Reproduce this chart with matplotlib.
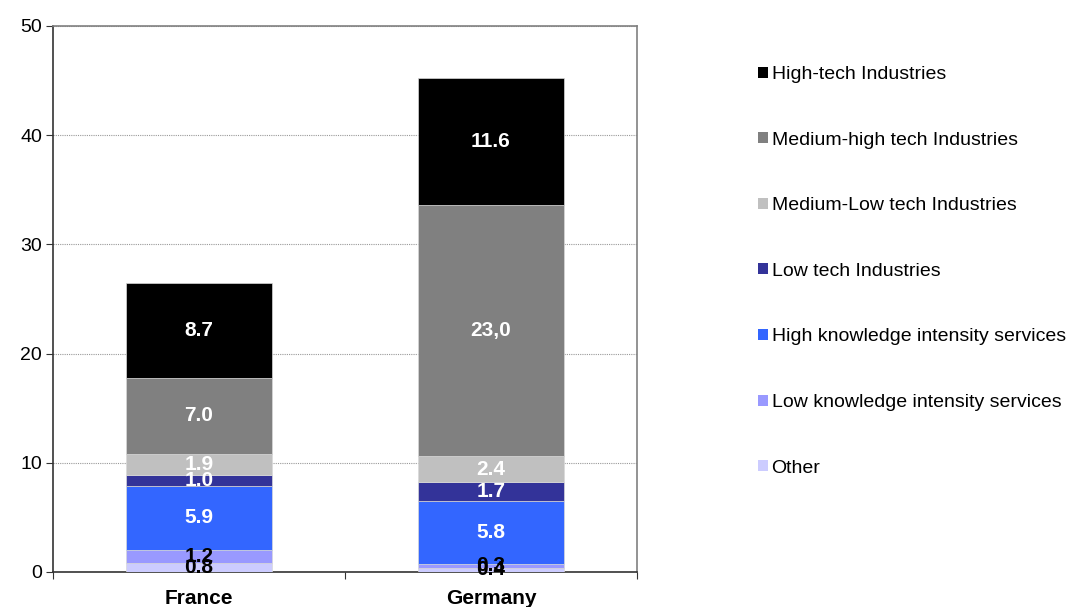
import matplotlib.pyplot as plt
from matplotlib.patches import Patch
from matplotlib.ticker import FixedLocator, NullFormatter

plt.rcParams['font.family'] = ['Liberation Sans', 'DejaVu Sans']

countries = ['France', 'Germany']
# stacked bottom to top
sectors = ['Other', 'Low knowledge intensity services', 'High knowledge intensity services',
           'Low tech Industries', 'Medium-Low tech Industries', 'Medium-high tech Industries',
           'High-tech Industries']
france = [0.8, 1.2, 5.9, 1.0, 1.9, 7.0, 8.7]
germany = [0.4, 0.3, 5.8, 1.7, 2.4, 23.0, 11.6]
germany_labels = ['0.4', '0.3', '5.8', '1.7', '2.4', '23,0', '11.6']
colors = ['#CCCCFF', '#9999FF', '#3366FF', '#333399', '#C0C0C0', '#808080', '#000000']
label_colors = ['black', 'black', 'white', 'white', 'white', 'white', 'white']

fig = plt.figure(figsize=(10.69, 6.07), dpi=100)
ax = fig.add_axes([53 / 1069, 35 / 607, 584 / 1069, 546 / 607])

values = [france, germany]
texts = [[f'{v:.1f}' for v in france], germany_labels]
for i in range(len(countries)):
    bottom = 0
    for j in range(len(sectors)):
        v = values[i][j]
        ax.bar(i, v, width=0.5, bottom=bottom, color=colors[j], edgecolor='#d8d8d8', linewidth=0.5, zorder=3)
        ax.text(i, bottom + v / 2, texts[i][j], ha='center', va='center', color=label_colors[j],
                fontsize=15, fontweight='bold', zorder=4)
        bottom += v

ax.set_xlim(-0.5, 1.5)
ax.set_ylim(0, 50)
ax.set_yticks([0, 10, 20, 30, 40, 50])
ax.tick_params(axis='y', labelsize=14, length=5, color='#333333', pad=3)
ax.yaxis.grid(True, linestyle=(0, (1, 1)), color='#999999', linewidth=0.8, zorder=0)

ax.xaxis.set_major_locator(FixedLocator([-0.5, 0.5, 1.5]))
ax.xaxis.set_major_formatter(NullFormatter())
ax.set_xticks([0, 1], minor=True)
ax.set_xticklabels(countries, minor=True, fontsize=15, fontweight='bold')
ax.tick_params(axis='x', which='minor', length=0, pad=12)
ax.tick_params(axis='x', which='major', length=5, color='#333333')

for side in ['left', 'bottom']:
    ax.spines[side].set_color('#333333')
    ax.spines[side].set_linewidth(1.2)
for side in ['top', 'right']:
    ax.spines[side].set_color('#808080')
    ax.spines[side].set_linewidth(1.2)

handles = [Patch(facecolor=colors[j], label=sectors[j]) for j in range(len(sectors))][::-1]
fig.legend(handles=handles, loc='upper left', bbox_to_anchor=(758 / 1069, 1 - 66 / 607),
           frameon=False, fontsize=14, handlelength=0.5, handleheight=0.5,
           handletextpad=0.2, labelspacing=2.5, borderaxespad=0, borderpad=0)

fig.savefig('out.png', dpi=100)
